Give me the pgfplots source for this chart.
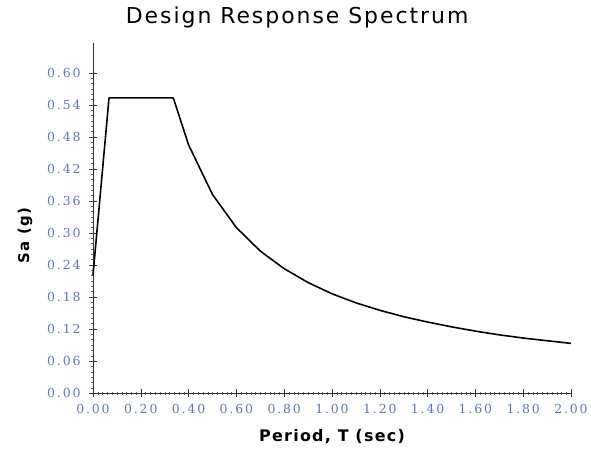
\documentclass[border=0pt]{standalone}
\usepackage{pgfplots}
\pgfplotsset{compat=1.18}
\usepackage{fontspec}
\setmainfont{DejaVu Sans}
\newfontfamily\tickfont[LetterSpace=15]{DejaVu Serif}
\newfontfamily\titlefont[LetterSpace=9]{DejaVu Sans}
\newfontfamily\labelfont[LetterSpace=8]{DejaVu Sans}
\definecolor{tickblue}{RGB}{95,115,175}
\begin{document}
\begin{tikzpicture}
\begin{axis}[
  scale only axis,
  width=478bp, height=350bp,
  xmin=0, xmax=2.0, ymin=0, ymax=0.656,
  axis lines=left,
  axis line style={-, black!80, line width=0.6pt},
  xtick={0,0.2,0.4,0.6,0.8,1.0,1.2,1.4,1.6,1.8,2.0},
  xticklabels={0.00,0.20,0.40,0.60,0.80,1.00,1.20,1.40,1.60,1.80,2.00},
  ytick={0,0.06,0.12,0.18,0.24,0.30,0.36,0.42,0.48,0.54,0.60},
  yticklabels={0.00,0.06,0.12,0.18,0.24,0.30,0.36,0.42,0.48,0.54,0.60},
  minor x tick num=9,
  minor y tick num=5,
  tick align=center,
  major tick length=8bp,
  minor tick length=3bp,
  tick style={black!80, line width=0.5pt},
  minor tick style={black!60, line width=0.3pt},
  ticklabel style={font=\tickfont\fontsize{12.5}{14}\selectfont, text=tickblue},
  xticklabel style={yshift=-4bp},
  yticklabel style={xshift=-5bp},
  title={\titlefont\fontsize{22}{26}\selectfont Design Response Spectrum},
  title style={at={(rel axis cs:0.427,1)}, anchor=south, yshift=5bp},
  xlabel={\labelfont\bfseries\fontsize{16}{18}\selectfont Period, T (sec)},
  ylabel={\labelfont\bfseries\fontsize{15}{18}\selectfont Sa (g)},
  xlabel style={yshift=-9bp},
  ylabel style={at={(ticklabel cs:0.45)}, anchor=south, yshift=8bp},
  clip=false,
]
\addplot[black, line width=1.6pt, line join=round] coordinates {
(0.000,0.221) (0.067,0.553) (0.336,0.553)
(0.400,0.465) (0.500,0.372) (0.600,0.310) (0.700,0.266) (0.800,0.233)
(0.900,0.207) (1.000,0.186) (1.100,0.169) (1.200,0.155) (1.300,0.143)
(1.400,0.133) (1.500,0.124) (1.600,0.116) (1.700,0.109) (1.800,0.103)
(1.900,0.098) (2.000,0.093)
};
\coordinate (O) at (rel axis cs:0,0);
\coordinate (E) at (rel axis cs:1,1);
\end{axis}
\pgfresetboundingbox
\useasboundingbox ([shift={(-93bp,-56bp)}]O) rectangle ([shift={(20bp,43bp)}]E);
\end{tikzpicture}
\end{document}
